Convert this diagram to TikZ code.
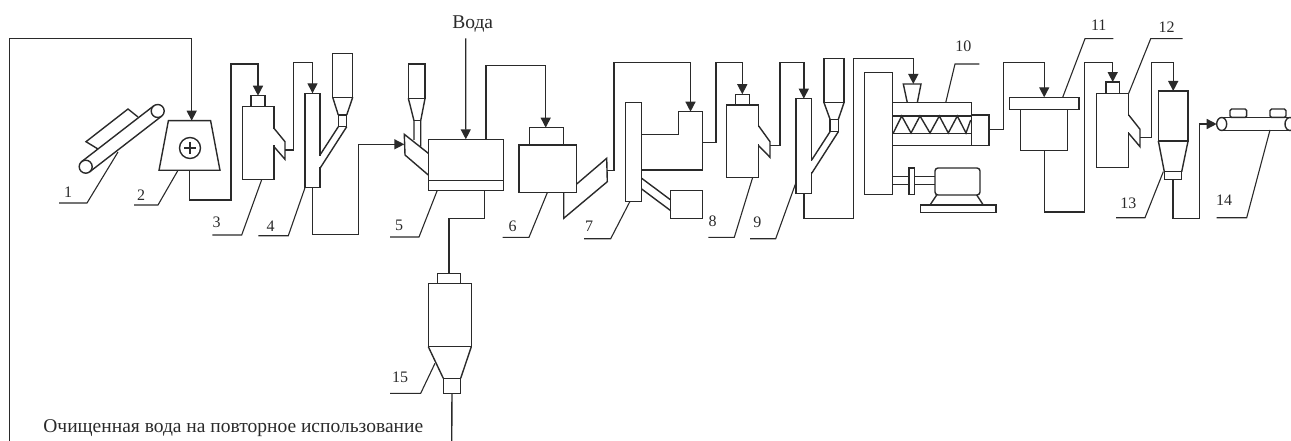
\documentclass[tikz,border=0pt]{standalone}
\usepackage{fontspec}
\setmainfont{Liberation Serif}
\usetikzlibrary{shapes.geometric, arrows.meta, positioning, calc}
\definecolor{LineGray}{HTML}{2A2A2A}

\begin{document}
\begin{tikzpicture}[
		x=1pt, y=-1pt,
		line width=1.4pt, draw=LineGray, color=LineGray,
		unit/.style 2 args={draw=LineGray, rectangle, inner sep=0pt, outer sep=0pt,
			minimum width=#1pt, minimum height=#2pt},
		roller/.style={draw=LineGray, circle, inner sep=0pt, outer sep=0pt, minimum size=13pt},
		drum/.style={draw=LineGray, ellipse, inner sep=0pt, outer sep=0pt,
			minimum width=10pt, minimum height=13pt},
		hopperbox/.style={draw=LineGray, trapezium, trapezium stretches=true,
			trapezium left angle=76.4, trapezium right angle=76.4, inner sep=0pt, outer sep=0pt,
			minimum width=61pt, minimum height=49.6pt},
		feed/.style={-{Triangle[length=10pt,width=10pt]}},
		pipe/.style={line width=1.4pt},
		gap/.style={white, line width=2.4pt},
		lead/.style={line width=1.1pt},
		num/.style={font=\fontsize{16}{18}\selectfont, inner sep=0pt},
		caption/.style={font=\fontsize{19.5}{22}\selectfont, inner sep=0pt},
		]
		\useasboundingbox (0,0) rectangle (1291,441);
		% ── Conveyor 1 and mixer 2 ───────────────────────────────────────────────────
		\node[roller] (rolla) at (85.7,166.7) {};
		\node[roller] (rollb) at (157.7,111) {};
		\draw[pipe] (rolla.127.7) -- (rollb.127.7);
		\draw[pipe] (rolla.-52.3) -- (rollb.-52.3);
		\draw[pipe] (98,149) -- (86,141.7) -- (128,109) -- (138,117);
		\node[hopperbox] (hopper) at (189.5,145.5) {\phantom{x}};
		\node[draw=LineGray, circle, minimum size=21pt, inner sep=0pt, outer sep=0pt] (plus) at (190,148) {};
		\draw[pipe] ([yshift=6pt]plus.center) -- ([yshift=-6pt]plus.center);
		\draw[pipe] ([xshift=-6pt]plus.center) -- ([xshift=6pt]plus.center);
		% ── Crusher 3 and column 4 ───────────────────────────────────────────────────
		\node[unit={14}{10.6}]   (cap3)  at (258,101) {};
		\node[unit={31.7}{73.4}] (body3) at (258.2,143) {};
		\draw[gap] (body3.east |- 0,129.5) -- (body3.east |- 0,145.5);
		\draw[pipe] (274,128.3) -- (285,141.7) -- (285,159.3) -- (274,146.7);
		\coordinate (out3) at (285,150);
		\node[unit={15}{94.4}]   (col4)  at (312.5,140.5) {};
		\draw[gap] (col4.east |- 0,156) -- (col4.east |- 0,167.5);
		\node[unit={20}{44}]     (cyc4)  at (342.7,75.3) {};
		\node[unit={8.4}{11.7}]  (neck4) at (342.5,120.9) {};
		\draw[pipe] (cyc4.south west) -- (neck4.north west);
		\draw[pipe] (cyc4.south east) -- (neck4.north east);
		\draw[pipe] (neck4.south west) -- (320,155);
		\draw[pipe] (neck4.south east) -- (320,168.3);
		% ── Washer 5 ─────────────────────────────────────────────────────────────────
		\node[unit={75}{51}]     (tank5) at (465.8,164.8) {};
		\draw[pipe] (tank5.west |- 0,180.7) -- (tank5.east |- 0,180.7);
		\node[unit={16.7}{34.3}] (cyc5)  at (416.7,81.2) {};
		\coordinate (neck5a) at (414,120.7);
		\coordinate (neck5b) at (420.7,120.7);
		\draw[pipe] (cyc5.south west) -- (neck5a) -- (414,140);
		\draw[pipe] (cyc5.south east) -- (neck5b) -- (420.7,146.7);
		\draw[pipe] (neck5a) -- (neck5b);
		\coordinate (in5) at (404.3,144.3);
		\draw[pipe] (428.3,153.3) -- (404.3,134.3) -- (405,155) -- (428.3,175);
		% ── Dryer 6 ──────────────────────────────────────────────────────────────────
		\node[unit={34}{17.3}]   (cap6)  at (546.7,136.3) {};
		\node[unit={57.7}{47.7}] (body6) at (547.8,168.8) {};
		\draw[pipe] (576.7,184) -- (606.7,158.3) -- (607.3,181.7) -- (563.7,218.3) -- (563.7,192.7);
		\coordinate (out6) at (607.3,170.7);
		% ── Separator 7 ──────────────────────────────────────────────────────────────
		\node[unit={16}{98.6}]   (col7)  at (633.7,152) {};
		\coordinate (top7) at (690.5,111.7);
		\draw[pipe] (641.7,134.3) -- (678.3,134.3) -- (678.3,111.7) -- (702.7,111.7)
			-- (702.7,170) -- (641.7,170);
		\coordinate (out7) at (702.7,142.7);
		\node[unit={32}{28}]     (bin7)  at (686.7,204.7) {};
		\draw[pipe] (641.7,178.3) -- (670.7,200);
		\draw[pipe] (641.7,189) -- (670.7,210.7);
		% ── Crusher 8 and column 9 ───────────────────────────────────────────────────
		\node[unit={14}{10.7}]   (cap8)  at (742.3,99.6) {};
		\node[unit={32}{72.3}]   (body8) at (742.7,141.2) {};
		\draw[gap] (body8.east |- 0,127) -- (body8.east |- 0,144.5);
		\draw[pipe] (758.7,126) -- (770,141.7) -- (770,157.3) -- (758.7,145.7);
		\coordinate (out8) at (770,145.7);
		\node[unit={15.7}{94.6}] (col9)  at (803.8,146) {};
		\draw[gap] (col9.east |- 0,161) -- (col9.east |- 0,172.5);
		\node[unit={20}{44}]     (cyc9)  at (834,80.7) {};
		\node[unit={8.3}{12.4}]  (neck9) at (834.2,125.5) {};
		\draw[pipe] (cyc9.south west) -- (neck9.north west);
		\draw[pipe] (cyc9.south east) -- (neck9.north east);
		\draw[pipe] (neck9.south west) -- (811.7,160);
		\draw[pipe] (neck9.south east) -- (811.7,173.3);
		% ── Extruder 10 ──────────────────────────────────────────────────────────────
		\node[unit={28.4}{121.6}] (press)  at (878.5,133.5) {};
		\node[unit={78.6}{42.6}]  (barrel) at (932,124) {};
		\node[unit={17.7}{30.3}]  (gear)   at (980.2,130.2) {};
		\draw[pipe] (barrel.west |- 0,116) -- (barrel.east |- 0,116);
		\draw[pipe] (barrel.west |- 0,133.3) -- (barrel.east |- 0,133.3);
		\draw[pipe] (893.3,133) -- (901.7,116) -- (911,133) -- (920,116) -- (930,133) -- (939.3,116)
			-- (948.3,133) -- (957.3,116) -- (966,133) -- (970.7,120);
		\coordinate (funnel) at (912.2,84);
		\draw[pipe] (907.3,102.7) -- (903.3,84) -- (921,84) -- (917.3,102.7);
		\node[unit={5.7}{26.3}]  (flange) at (911.9,181.2) {};
		\node[unit={45}{27}, rounded corners=3pt] (motor) at (957.5,181.5) {};
		\node[unit={75.7}{7.7}]  (plate)  at (958.2,208.9) {};
		\draw[pipe] (press.east |- 0,176.7) -- (flange.west |- 0,176.7);
		\draw[pipe] (press.east |- 0,184.3) -- (flange.west |- 0,184.3);
		\draw[pipe] (flange.east |- 0,176.7) -- (motor.west |- 0,176.7);
		\draw[pipe] (flange.east |- 0,184.3) -- (motor.west |- 0,184.3);
		\draw[pipe] (936.7,195) -- (930,205);
		\draw[pipe] (976.7,195) -- (983.3,205);
		% ── Units 11, 12, 13 ─────────────────────────────────────────────────────────
		\node[unit={69.7}{12.4}] (plate11) at (1044.2,103.5) {};
		\node[unit={47}{40.6}]   (body11)  at (1044.2,130) {};
		\node[unit={13.3}{11.3}] (cap12)   at (1112.7,87.7) {};
		\node[unit={32}{74.4}]   (body12)  at (1112.7,130.5) {};
		\draw[gap] (body12.east |- 0,116) -- (body12.east |- 0,132.5);
		\draw[pipe] (1128.7,115) -- (1140,129.3) -- (1140,146.7) -- (1128.7,133.3);
		\coordinate (out12) at (1140,137.3);
		\node[unit={29.7}{50}]   (cyc13)   at (1173.2,116) {};
		\node[unit={17.4}{7.6}]  (seal13)  at (1173,175.5) {};
		\draw[pipe] (cyc13.south west) -- (seal13.north west);
		\draw[pipe] (cyc13.south east) -- (seal13.north east);
		% ── Conveyor 14 ──────────────────────────────────────────────────────────────
		\node[drum] (druma) at (1221.7,124) {};
		\node[drum] (drumb) at (1290,124) {};
		\draw[pipe] (druma.north) -- (drumb.north);
		\draw[pipe] (druma.south) -- (drumb.south);
		\node[unit={16.7}{8.3}, rounded corners=1.5pt] (cap14a) at (1238.3,113.2) {};
		\node[unit={16}{8.3}, rounded corners=1.5pt]   (cap14b) at (1278,113.2) {};
		% ── Filter 15 ────────────────────────────────────────────────────────────────
		\node[unit={23.4}{10}]   (cap15)  at (449,278.3) {};
		\node[unit={43}{63.4}]   (cyc15)  at (449.8,315) {};
		\node[unit={17.4}{15}]   (seal15) at (452,385.8) {};
		\draw[pipe] (cyc15.south west) -- (seal15.north west);
		\draw[pipe] (cyc15.south east) -- (seal15.north east);
		% ── Flow lines ───────────────────────────────────────────────────────────────
		\coordinate (back) at (9.7,441);
		\coordinate (drain) at (451.7,441);
		\coordinate (water) at (465.7,38.3);
		\draw[feed] (back) |- (191.7,38.5) -- (hopper.north -| 191.7,0);
		\draw[feed] (hopper.south) |- (231,200) |- (cap3.north |- 0,64) -- (cap3.north);
		\draw[feed] (out3) -| (293.3,62.3) -| (col4.north);
		\draw[feed] (col4.south) |- (358.3,234.3) |- (in5);
		\draw[feed] (water) -- (tank5.north);
		\draw[feed] (tank5.north -| 486,0) |- (545.7,65.7) -- (cap6.north -| 545.7,0);
		\draw[pipe] (tank5.south -| 484.3,0) |- (449,218.3) -- (cap15.north -| 449,0);
		\draw[pipe] (seal15.south) -- (drain);
		\draw[feed] (out6) -| (614,62.3) -| (top7);
		\draw[feed] (out7) -| (716,62.3) -| (cap8.north);
		\draw[feed] (out8) -| (780,62.3) -| (col9.north);
		\draw[feed] (col9.south) |- (853.3,218.7) |- (913.3,58.7) -- (funnel -| 913.3,0);
		\draw[feed] (gear.east |- 0,129.3) -| (1003.3,62.7) -| (plate11.north);
		\draw[feed] (body11.south) |- (1084.7,212) |- (1112.7,62.7) -- (cap12.north);
		\draw[feed] (out12) -| (1151.3,62.7) -| (cyc13.north);
		\draw[feed] (seal13.south) |- (1199.3,218.7) |- (druma.west);
		% ── Numbers and leaders ──────────────────────────────────────────────────────
		\foreach \n/\tx/\ty/\ex/\ey in {1/68/192/59/203, 2/141/195/134/205, 3/216.7/222.7/212.3/235,
			4/270.7/226/258.3/235.7, 5/399/225/390/237, 6/512.7/226/502.7/237.3, 7/589/226.7/584/238.7,
			8/712.7/221.7/708.3/237.3, 9/757.3/222.7/750/238.7, 10/963.3/46.7/979.3/64,
			11/1098.7/25.7/1113.3/38.7, 12/1166.7/27.3/1182.7/38.7, 13/1128.3/203.3/1116/217.7,
			14/1224/200.7/1216.7/217.7, 15/400/377.3/390/393.3}
		{
			\node[num] (n\n) at (\tx,\ty) {\n};
			\coordinate (u\n) at (\ex,\ey);
		}
		\draw[lead] (118,152) -- (87,203) -- (u1);
		\draw[lead] (178,170.3) -- (158,205) -- (u2);
		\draw[lead] ([xshift=3.5pt]body3.south) -- (241.7,235) -- (u3);
		\draw[lead] (col4.south west) -- (288.3,235.7) -- (u4);
		\draw[lead] (437.3,190.3) -- (419,237) -- (u5);
		\draw[lead] ([xshift=-0.5pt]body6.south) -- (529,237.3) -- (u6);
		\draw[lead] ([xshift=-3.7pt]col7.south) -- (610.7,238.7) -- (u7);
		\draw[lead] ([xshift=10pt]body8.south) -- (734.3,237.3) -- (u8);
		\draw[lead] (795.7,183.3) -- (775.7,238.7) -- (u9);
		\draw[lead] (945.7,102.7) -- (955,64) -- (u10);
		\draw[lead] ([xshift=18.5pt]plate11.north) -- (1085,38.7) -- (u11);
		\draw[lead] (body12.north east) -- (1150.7,38.7) -- (u12);
		\draw[lead] (1163.3,171.7) -- (1145,217.7) -- (u13);
		\draw[lead] (1270,130) -- (1246.7,217.7) -- (u14);
		\draw[lead] (435,363.3) -- (420.7,393.3) -- (u15);
		% ── Captions ─────────────────────────────────────────────────────────────────
		\node[caption] (vodatext) at (472.7,24.3) {Вода};
		\node[caption] (cleantext) at (233.3,428.3) {Очищенная вода на повторное использование};
	\end{tikzpicture}
\end{document}
